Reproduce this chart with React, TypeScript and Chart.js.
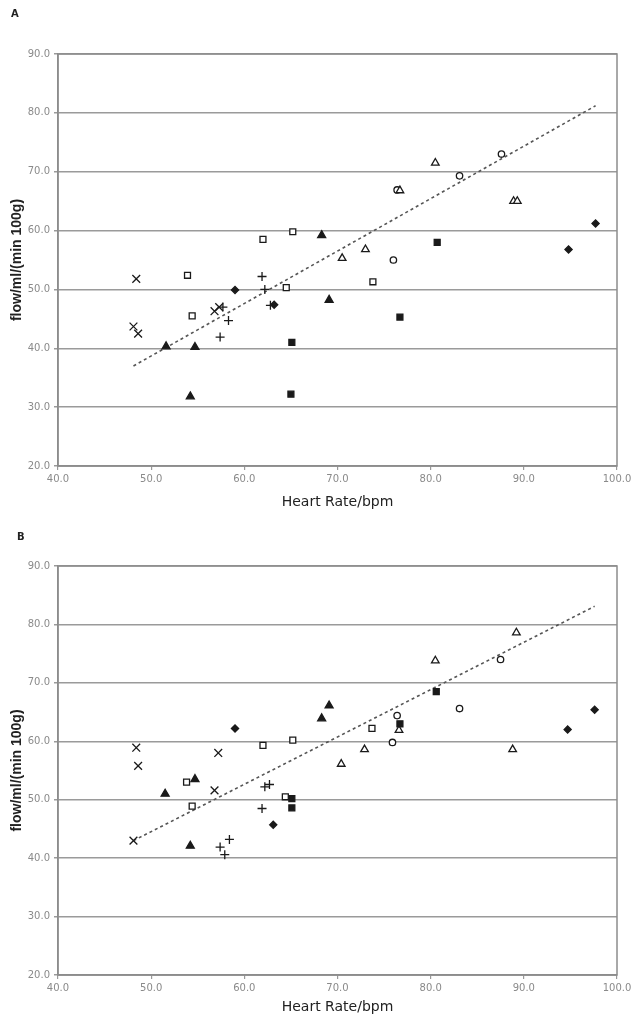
import React, { useEffect, useRef } from "react";
import { Chart, registerables } from "chart.js";
Chart.register(...registerables);

// ---------- Panel A data ----------
const aXRotX = [48.4, 48.1, 48.6, 56.8, 57.3];
const aXRotY = [51.8, 43.7, 42.5, 46.3, 47.0];
const aPlusX = [61.9, 62.2, 57.4, 58.3, 57.7, 62.8];
const aPlusY = [52.2, 50.0, 41.9, 44.7, 47.0, 47.3];
const aDiamondX = [59.0, 63.2, 94.8, 97.7];
const aDiamondY = [49.9, 47.4, 56.8, 61.2];
const aOpenSqX = [53.9, 54.4, 62.0, 65.2, 64.5, 73.8];
const aOpenSqY = [52.4, 45.5, 58.5, 59.8, 50.3, 51.3];
const aFillSqX = [65.1, 65.0, 76.7, 80.7];
const aFillSqY = [41.0, 32.2, 45.3, 58.0];
const aFillTriX = [51.6, 54.7, 54.2, 68.3, 69.1];
const aFillTriY = [40.3, 40.2, 31.8, 59.2, 48.2];
const aOpenTriX = [70.5, 73.0, 76.7, 80.5, 88.9, 89.3];
const aOpenTriY = [55.3, 56.8, 66.8, 71.5, 65.0, 65.0];
const aCircleX = [76.0, 76.4, 83.1, 87.6];
const aCircleY = [55.0, 66.9, 69.3, 73.0];
const aTrendX = [48.1, 97.7];
const aTrendY = [37.0, 81.2];

// ---------- Panel B data ----------
const bXRotX = [48.4, 48.6, 48.1, 57.2, 56.8];
const bXRotY = [58.9, 55.8, 43.0, 58.0, 51.6];
const bPlusX = [61.9, 62.2, 62.7, 58.4, 57.4, 57.9];
const bPlusY = [48.5, 52.2, 52.6, 43.2, 41.9, 40.6];
const bDiamondX = [59.0, 63.1, 94.7, 97.6];
const bDiamondY = [62.2, 45.7, 62.0, 65.4];
const bOpenSqX = [53.8, 54.4, 62.0, 65.2, 64.4, 73.7];
const bOpenSqY = [53.0, 48.9, 59.3, 60.2, 50.5, 62.2];
const bFillSqX = [65.1, 65.1, 76.7, 80.6];
const bFillSqY = [50.2, 48.6, 63.0, 68.5];
const bFillTriX = [51.5, 54.7, 54.2, 68.3, 69.1];
const bFillTriY = [51.0, 53.5, 42.1, 63.9, 66.1];
const bOpenTriX = [70.4, 72.9, 76.6, 80.5, 88.8, 89.2];
const bOpenTriY = [56.1, 58.6, 61.9, 73.8, 58.6, 78.6];
const bCircleX = [75.9, 76.4, 83.1, 87.5];
const bCircleY = [59.8, 64.4, 65.6, 74.0];
const bTrendX = [48.1, 97.6];
const bTrendY = [43.0, 83.1];

// ---------- axis ----------
const xMin = 40, xMax = 100, yMin = 20, yMax = 90, step = 10;
const xTitle = "Heart Rate/bpm";
const yTitle = "flow/ml/(min 100g)";

const zip = (xs: number[], ys: number[]) => xs.map((x, i) => ({ x, y: ys[i] }));

function marker(data: any[], style: string, radius: number, filled: boolean) {
  return {
    data,
    pointStyle: style,
    pointRadius: radius,
    pointHoverRadius: radius,
    pointBorderWidth: 1.3,
    borderColor: "#1a1a1a",
    backgroundColor: filled ? "#1a1a1a" : "#ffffff",
    showLine: false,
    order: 1,
  };
}

function buildDatasets(p: any) {
  return [
    marker(zip(p.xr[0], p.xr[1]), "crossRot", 5.5, false),
    marker(zip(p.pl[0], p.pl[1]), "cross", 4.5, false),
    marker(zip(p.dm[0], p.dm[1]), "rectRot", 3.6, true),
    marker(zip(p.os[0], p.os[1]), "rect", 4.2, false),
    marker(zip(p.fs[0], p.fs[1]), "rect", 4.2, true),
    marker(zip(p.ft[0], p.ft[1]), "triangle", 4.6, true),
    marker(zip(p.ot[0], p.ot[1]), "triangle", 4.4, false),
    marker(zip(p.ci[0], p.ci[1]), "circle", 3.2, false),
    {
      data: zip(p.tr[0], p.tr[1]),
      showLine: true,
      borderColor: "#555555",
      borderWidth: 1.6,
      borderDash: [3, 3],
      pointRadius: 0,
      fill: false,
      order: 10,
    },
  ];
}

const boxPlugin = {
  id: "box",
  afterDatasetsDraw(chart: any) {
    const { ctx, chartArea: a } = chart;
    ctx.save();
    ctx.strokeStyle = "#8c8c8c";
    ctx.lineWidth = 1.5;
    ctx.strokeRect(a.left, a.top, a.right - a.left, a.bottom - a.top);
    ctx.restore();
  },
};

function Panel({ panel, height, padTop, xAxisH }: any) {
  const ref = useRef<HTMLCanvasElement>(null);
  useEffect(() => {
    const tickFont = { family: "DejaVu Sans", size: 10 };
    const chart = new Chart(ref.current!, {
      type: "scatter",
      data: { datasets: buildDatasets(panel) as any },
      options: {
        animation: false,
        responsive: false,
        layout: { padding: { left: 0, right: 14, top: padTop, bottom: 0 } },
        plugins: { legend: { display: false }, tooltip: { enabled: false } },
        scales: {
          x: {
            type: "linear",
            min: xMin,
            max: xMax,
            ticks: {
              stepSize: step,
              color: "#8a8a8a",
              font: tickFont,
              padding: 3,
              maxRotation: 0,
              callback: (v: any) => Number(v).toFixed(1),
            },
            grid: { drawOnChartArea: false, drawTicks: true, tickLength: 4, color: "#9a9a9a", lineWidth: 1.2 },
            border: { color: "#8c8c8c", width: 1.5 },
            title: {
              display: true,
              text: xTitle,
              color: "#222",
              font: { family: "DejaVu Sans", size: 14, lineHeight: 1.2 },
              padding: { top: 0, bottom: 0 },
            },
            afterFit: (s: any) => {
              s.height = xAxisH;
              s.paddingLeft = 0;
              s.paddingRight = 0;
            },
          },
          y: {
            type: "linear",
            min: yMin,
            max: yMax,
            ticks: {
              stepSize: step,
              color: "#8a8a8a",
              font: tickFont,
              padding: 4,
              callback: (v: any) => Number(v).toFixed(1),
            },
            grid: { color: "#9a9a9a", lineWidth: 1.5, tickLength: 4 },
            border: { color: "#8c8c8c", width: 1.5 },
            title: {
              display: true,
              text: yTitle,
              color: "#222",
              font: { family: "Liberation Sans", size: 14, weight: "bold", lineHeight: 1.2 },
              padding: { top: 9, bottom: 0 },
            },
            afterFit: (s: any) => {
              s.width = 58;
              s.paddingTop = 0;
              s.paddingBottom = 0;
            },
          },
        },
      },
      plugins: [boxPlugin],
    } as any);
    return () => chart.destroy();
  }, []);
  return <canvas ref={ref} width={631} height={height} style={{ display: "block" }} />;
}

const panelA = {
  xr: [aXRotX, aXRotY], pl: [aPlusX, aPlusY], dm: [aDiamondX, aDiamondY],
  os: [aOpenSqX, aOpenSqY], fs: [aFillSqX, aFillSqY], ft: [aFillTriX, aFillTriY],
  ot: [aOpenTriX, aOpenTriY], ci: [aCircleX, aCircleY], tr: [aTrendX, aTrendY],
};
const panelB = {
  xr: [bXRotX, bXRotY], pl: [bPlusX, bPlusY], dm: [bDiamondX, bDiamondY],
  os: [bOpenSqX, bOpenSqY], fs: [bFillSqX, bFillSqY], ft: [bFillTriX, bFillTriY],
  ot: [bOpenTriX, bOpenTriY], ci: [bCircleX, bCircleY], tr: [bTrendX, bTrendY],
};

const labelStyle: React.CSSProperties = {
  position: "absolute",
  fontFamily: "DejaVu Sans",
  fontWeight: "bold",
  fontSize: 10,
  color: "#222",
  lineHeight: "12px",
};

export default function App() {
  return (
    <div style={{ position: "absolute", left: 0, top: 0, width: 631, height: 1016, background: "#fff" }}>
      <div style={{ position: "absolute", left: 0, top: 0 }}>
        <Panel panel={panelA} height={511} padTop={54} xAxisH={45} />
      </div>
      <div style={{ position: "absolute", left: 0, top: 511 }}>
        <Panel panel={panelB} height={505} padTop={55} xAxisH={41} />
      </div>
      <div style={{ ...labelStyle, left: 11, top: 8 }}>A</div>
      <div style={{ ...labelStyle, left: 17, top: 531 }}>B</div>
    </div>
  );
}
